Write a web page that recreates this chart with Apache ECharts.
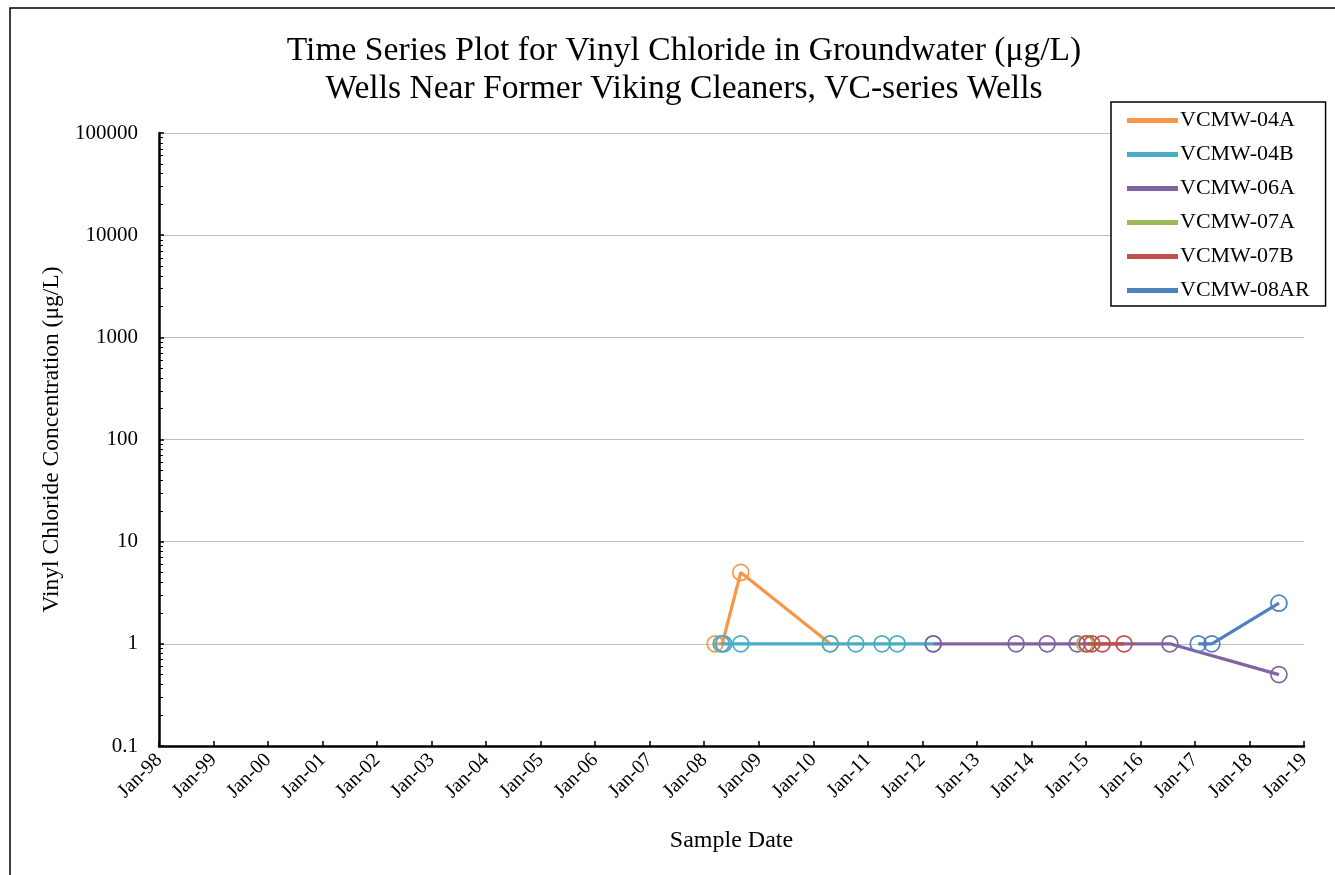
<!DOCTYPE html>
<html>
<head>
<meta charset="utf-8">
<script src="https://cdn.jsdelivr.net/npm/echarts@6/dist/echarts.min.js"></script>
<style>
html,body{margin:0;padding:0;background:#fff;}
#c{width:1335px;height:875px;}
</style>
</head>
<body>
<div id="c"></div>
<script>
// ---- data (dates as fractional years) ----
const seriesNames = ['VCMW-04A','VCMW-04B','VCMW-06A','VCMW-07A','VCMW-07B','VCMW-08AR'];
const colors = ['#F79646','#4BACC6','#8064A2','#9BBB59','#C0504D','#4F81BD'];

const vcmw04A_t = [2008.20, 2008.33, 2008.67, 2010.31];
const vcmw04A_v = [1, 1, 5, 1];

const vcmw04B_t = [2008.31, 2008.36, 2008.67, 2010.31, 2010.78, 2011.26, 2011.54, 2012.20];
const vcmw04B_v = [1, 1, 1, 1, 1, 1, 1, 1];

const vcmw06A_t = [2012.20, 2013.72, 2014.29, 2014.84, 2016.54, 2018.54];
const vcmw06A_v = [1, 1, 1, 1, 1, 0.5];

const vcmw07A_t = [2014.98];
const vcmw07A_v = [1];

const vcmw07B_t = [2015.02, 2015.11, 2015.30, 2015.70];
const vcmw07B_v = [1, 1, 1, 1];

const vcmw08AR_t = [2017.06, 2017.31, 2018.54];
const vcmw08AR_v = [1, 1, 2.5];

const xStartYear = 1998, xEndYear = 2019;
const yMin = 0.1, yMax = 100000;

const allT = [vcmw04A_t, vcmw04B_t, vcmw06A_t, vcmw07A_t, vcmw07B_t, vcmw08AR_t];
const allV = [vcmw04A_v, vcmw04B_v, vcmw06A_v, vcmw07A_v, vcmw07B_v, vcmw08AR_v];

const serif = '"Liberation Serif","Times New Roman",serif';

const series = seriesNames.map((n, i) => ({
  name: n,
  type: 'line',
  data: allT[i].map((t, j) => [t, allV[i][j]]),
  symbol: 'circle',
  symbolSize: 16,
  showAllSymbol: true,
  lineStyle: { color: colors[i], width: 3.2 },
  itemStyle: { color: 'rgba(0,0,0,0)', borderColor: colors[i], borderWidth: 1.7 },
  emphasis: { disabled: true },
  animation: false,
  z: 2 + i
}));

const chart = echarts.init(document.getElementById('c'), null, { renderer: 'canvas' });
chart.setOption({
  backgroundColor: '#fff',
  animation: false,
  graphic: [{
    type: 'rect', z: -10, silent: true,
    shape: { x: 10, y: 8, width: 1400, height: 1000 },
    style: { fill: 'none', stroke: '#000', lineWidth: 1.5 }
  }],
  title: {
    text: 'Time Series Plot for Vinyl Chloride in Groundwater (μg/L)\nWells Near Former Viking Cleaners, VC-series Wells',
    left: 679, top: 27, textAlign: 'center',
    textStyle: { fontFamily: serif, fontSize: 33.6, fontWeight: 'normal', color: '#000', lineHeight: 38 }
  },
  legend: {
    orient: 'vertical',
    left: 1111, top: 102,
    padding: [7, 16, 4, 16],
    itemGap: 11,
    itemWidth: 49, itemHeight: 3,
    icon: 'rect',
    backgroundColor: '#fff',
    borderColor: '#000', borderWidth: 1.5,
    textStyle: { fontFamily: serif, fontSize: 22, color: '#000', padding: [0,0,0,-2], lineHeight: 23 },
    data: seriesNames.map((n, i) => ({ name: n, itemStyle: { color: colors[i] } }))
  },
  grid: { left: 159, right: 31, top: 133, bottom: 129, containLabel: false },
  xAxis: {
    type: 'value',
    min: xStartYear, max: xEndYear, interval: 1,
    name: 'Sample Date', nameLocation: 'middle', nameGap: 83,
    nameTextStyle: { fontFamily: serif, fontSize: 24, color: '#000' },
    axisLine: { lineStyle: { color: '#000', width: 2.5 } },
    axisTick: { inside: true, length: 5, lineStyle: { color: '#000', width: 1.5 } },
    axisLabel: {
      rotate: 45, fontFamily: serif, fontSize: 20, color: '#000', margin: 11,
      formatter: v => 'Jan-' + String(Math.round(v)).slice(2)
    },
    splitLine: { show: false }
  },
  yAxis: {
    type: 'log', logBase: 10,
    min: yMin, max: yMax,
    name: 'Vinyl Chloride Concentration (μg/L)', nameLocation: 'middle', nameGap: 86,
    nameTextStyle: { fontFamily: serif, fontSize: 23.5, color: '#000' },
    axisLine: { show: true, lineStyle: { color: '#000', width: 2.5 } },
    axisTick: { inside: true, length: 5, lineStyle: { color: '#000', width: 1.5 } },
    minorTick: { show: true, splitNumber: 9, length: 4, lineStyle: { color: '#000', width: 1 } },
    axisLabel: {
      fontFamily: serif, fontSize: 21, color: '#000', margin: 21,
      formatter: v => String(Number(Number(v).toPrecision(6)))
    },
    splitLine: { show: true, lineStyle: { color: '#bfbfbf', width: 1.2 } }
  },
  series: series
});
</script>
</body>
</html>
